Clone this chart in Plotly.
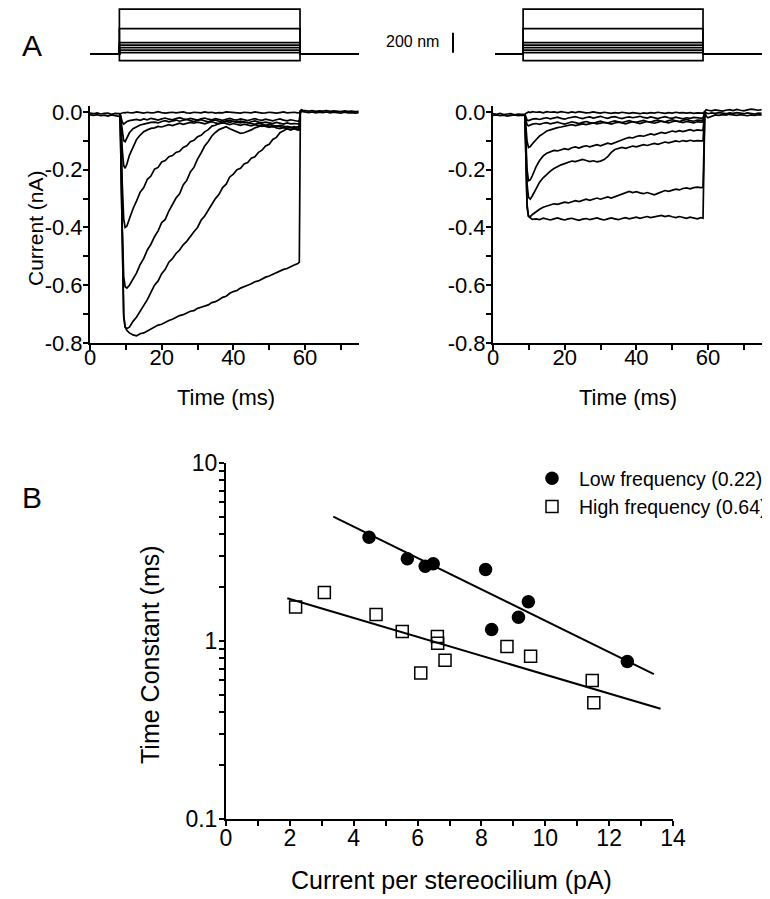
import plotly.graph_objects as go

FONT = "Liberation Sans, Arial, sans-serif"
W, H = 770, 899
OFF = 8  # page body margin of the html page

# ---------------- Panel A : stimulus (displacement steps, nm) ----------------
STIM_STEPS_NM = [450, 255, 115, 90, 65, 40, 15, -65]
STIM_ON = [8.2, 8.4]
STIM_OFF = [58.6, 58.6]
STIM_START = [0.0, 0.6]
STIM_END = 75.0
SCALE_BAR_NM = 200

# ---------------- Panel A left : currents (nA) ----------------
LEFT_T = [8.4, 8.7, 9.0, 9.4, 9.8, 10.3, 11,
          12, 13, 14, 15, 16, 17, 18, 19, 20, 21,
          22, 23, 24, 25, 26, 27, 28, 29, 30, 31,
          32, 33, 34, 35, 36, 37, 38, 39, 40, 41,
          42, 43, 44, 45, 46, 47, 48, 49, 50, 51,
          52, 53, 54, 55, 56, 57, 58,
          58.4, 58.7]

L0 = [-0.006, -0.004, -0.003, -0.002, -0.003, -0.001, -0.002,
      -0.003, 0.000, -0.002, -0.004, -0.001, -0.003, -0.002, 0.001, -0.002, -0.004,
      -0.002, -0.001, -0.003, -0.002, 0.000, -0.003, -0.004, -0.001, -0.002, -0.003,
      0.000, -0.002, -0.001, -0.004, -0.002, -0.003, 0.000, -0.001, -0.003, -0.002,
      -0.004, -0.001, -0.002, -0.003, 0.000, -0.002, -0.004, -0.003, -0.001, -0.002,
      -0.004, -0.002, 0.000, -0.003, -0.002, -0.001, -0.003,
      -0.002, 0.003]
L1 = [-0.006, -0.020, -0.035, -0.042, -0.038, -0.033, -0.030,
      -0.028, -0.026, -0.029, -0.024, -0.027, -0.022, -0.025, -0.028, -0.024, -0.021,
      -0.025, -0.027, -0.023, -0.020, -0.024, -0.026, -0.022, -0.025, -0.028, -0.024,
      -0.021, -0.025, -0.027, -0.023, -0.026, -0.029, -0.025, -0.022, -0.026, -0.028,
      -0.024, -0.027, -0.030, -0.026, -0.023, -0.027, -0.029, -0.025, -0.028, -0.031,
      -0.027, -0.024, -0.028, -0.031, -0.027, -0.030, -0.032,
      -0.030, 0.004]
L2 = [-0.006, -0.030, -0.070, -0.100, -0.103, -0.090, -0.072,
      -0.058, -0.050, -0.045, -0.042, -0.038, -0.036, -0.035, -0.038, -0.033, -0.030,
      -0.034, -0.031, -0.028, -0.032, -0.029, -0.026, -0.030, -0.033, -0.029, -0.027,
      -0.031, -0.034, -0.030, -0.028, -0.032, -0.035, -0.031, -0.029, -0.033, -0.036,
      -0.032, -0.035, -0.038, -0.034, -0.031, -0.035, -0.038, -0.035, -0.037, -0.040,
      -0.036, -0.039, -0.042, -0.038, -0.041, -0.040, -0.043,
      -0.042, 0.004]
L3 = [-0.007, -0.050, -0.130, -0.185, -0.195, -0.180, -0.150,
      -0.120, -0.095, -0.080, -0.068, -0.062, -0.057, -0.055, -0.050, -0.052, -0.047,
      -0.044, -0.047, -0.042, -0.039, -0.043, -0.040, -0.036, -0.039, -0.035, -0.038,
      -0.041, -0.037, -0.034, -0.038, -0.041, -0.037, -0.040, -0.044, -0.040, -0.043,
      -0.046, -0.042, -0.045, -0.048, -0.044, -0.047, -0.050, -0.046, -0.049, -0.052,
      -0.048, -0.051, -0.054, -0.050, -0.053, -0.055, -0.052,
      -0.054, 0.003]
L4 = [-0.007, -0.090, -0.250, -0.370, -0.400, -0.395, -0.370,
      -0.335, -0.308, -0.278, -0.262, -0.233, -0.222, -0.198, -0.192, -0.173, -0.168,
      -0.155, -0.151, -0.140, -0.136, -0.123, -0.117, -0.103, -0.098, -0.086, -0.081,
      -0.069, -0.061, -0.049, -0.046, -0.039, -0.038, -0.033, -0.036, -0.032, -0.035,
      -0.038, -0.034, -0.037, -0.040, -0.043, -0.039, -0.042, -0.046, -0.043, -0.047,
      -0.050, -0.046, -0.049, -0.052, -0.055, -0.051, -0.054,
      -0.056, 0.003]
L5 = [-0.008, -0.150, -0.400, -0.570, -0.605, -0.610, -0.600,
      -0.580, -0.557, -0.528, -0.507, -0.478, -0.458, -0.432, -0.412, -0.383, -0.372,
      -0.343, -0.322, -0.298, -0.283, -0.253, -0.237, -0.208, -0.192, -0.163, -0.142,
      -0.118, -0.102, -0.083, -0.071, -0.061, -0.056, -0.051, -0.058, -0.064, -0.070,
      -0.074, -0.072, -0.068, -0.062, -0.055, -0.050, -0.047, -0.050, -0.053, -0.049,
      -0.055, -0.058, -0.054, -0.059, -0.062, -0.058, -0.063,
      -0.060, 0.004]
L6 = [-0.008, -0.200, -0.500, -0.710, -0.745, -0.750, -0.745,
      -0.725, -0.710, -0.690, -0.672, -0.650, -0.625, -0.600, -0.585, -0.560, -0.545,
      -0.520, -0.508, -0.490, -0.478, -0.460, -0.448, -0.430, -0.415, -0.400, -0.375,
      -0.360, -0.340, -0.322, -0.300, -0.285, -0.262, -0.250, -0.225, -0.215, -0.200,
      -0.195, -0.180, -0.175, -0.160, -0.155, -0.140, -0.132, -0.118, -0.112, -0.095,
      -0.088, -0.072, -0.065, -0.058, -0.062, -0.056, -0.060,
      -0.062, 0.004]
L7 = [-0.008, -0.200, -0.500, -0.700, -0.745, -0.757, -0.765,
      -0.772, -0.775, -0.768, -0.765, -0.758, -0.752, -0.745, -0.738, -0.735, -0.728,
      -0.722, -0.718, -0.710, -0.705, -0.702, -0.695, -0.690, -0.688, -0.680, -0.676,
      -0.672, -0.668, -0.660, -0.657, -0.650, -0.642, -0.638, -0.628, -0.622, -0.618,
      -0.610, -0.604, -0.600, -0.595, -0.588, -0.585, -0.578, -0.572, -0.568, -0.562,
      -0.558, -0.552, -0.545, -0.542, -0.535, -0.530, -0.525,
      -0.520, 0.005]

LEFT_PRE_T = [0, 1, 2, 3, 4, 5, 6, 7, 8, 8.4]
LEFT_PRE_A = [-0.004, -0.006, -0.003, -0.007, -0.005, -0.004, -0.008, -0.005, -0.006, -0.006]
LEFT_PRE_B = [-0.010, -0.012, -0.009, -0.013, -0.011, -0.014, -0.010, -0.012, -0.015, -0.012]
LEFT_POST_T = [58.7, 59.0, 59.4, 60, 61, 62, 63, 64, 65, 66, 67, 68, 69, 70, 71, 72, 73, 74, 75]
LEFT_POST_A = [0.004, 0.008, 0.006, 0.004, 0.003, 0.005, 0.002, 0.004, 0.003, 0.005,
               0.002, 0.004, 0.003, 0.001, 0.004, 0.002, 0.003, 0.001, 0.002]
LEFT_POST_B = [0.000, 0.003, 0.001, -0.001, -0.002, 0.000, -0.003, -0.001, -0.002, 0.000,
               -0.003, -0.001, -0.002, -0.004, -0.001, -0.003, -0.002, -0.004, -0.002]

# ---------------- Panel A right : currents (nA) ----------------
RIGHT_T = [8.9, 9.2, 9.5, 9.9, 10.4, 11,
           12, 13, 14, 15, 16, 17, 18, 19, 20, 21,
           22, 23, 24, 25, 26, 27, 28, 29, 30, 31,
           32, 33, 34, 35, 36, 37, 38, 39, 40, 41,
           42, 43, 44, 45, 46, 47, 48, 49, 50, 51,
           52, 53, 54, 55, 56, 57, 58,
           58.6, 59.1]

R0 = [-0.007, -0.004, -0.002, 0.000, -0.002, 0.001,
      -0.001, 0.000, -0.003, 0.001, -0.001, 0.000, -0.002, 0.001, -0.001, -0.003,
      0.000, -0.002, 0.001, -0.001, -0.003, -0.002, 0.000, -0.002, -0.004, -0.001,
      -0.003, -0.005, -0.002, -0.004, -0.001, -0.003, -0.005, -0.002, -0.004, -0.006,
      -0.003, -0.005, -0.002, -0.004, -0.001, -0.003, -0.005, -0.002, -0.004, -0.001,
      -0.003, -0.002, -0.004, -0.002, -0.005, -0.003, -0.004,
      -0.004, 0.002]
R1 = [-0.008, -0.020, -0.028, -0.030, -0.027, -0.025,
      -0.023, -0.026, -0.022, -0.020, -0.024, -0.021, -0.018, -0.022, -0.025, -0.021,
      -0.019, -0.016, -0.020, -0.023, -0.019, -0.017, -0.021, -0.018, -0.015, -0.019,
      -0.022, -0.018, -0.016, -0.020, -0.023, -0.019, -0.017, -0.020, -0.018, -0.015,
      -0.019, -0.021, -0.017, -0.020, -0.023, -0.019, -0.016, -0.020, -0.022, -0.018,
      -0.021, -0.024, -0.020, -0.022, -0.019, -0.021, -0.023,
      -0.022, 0.000]
R2 = [-0.008, -0.030, -0.045, -0.048, -0.045, -0.042,
      -0.040, -0.043, -0.039, -0.037, -0.041, -0.038, -0.035, -0.039, -0.042, -0.038,
      -0.034, -0.037, -0.040, -0.036, -0.033, -0.037, -0.039, -0.035, -0.032, -0.036,
      -0.038, -0.034, -0.031, -0.034, -0.037, -0.033, -0.030, -0.034, -0.036, -0.032,
      -0.029, -0.033, -0.035, -0.031, -0.028, -0.032, -0.034, -0.030, -0.027, -0.031,
      -0.033, -0.029, -0.026, -0.030, -0.032, -0.028, -0.030,
      -0.029, 0.001]
R3 = [-0.008, -0.050, -0.100, -0.123, -0.120, -0.110,
      -0.095, -0.083, -0.075, -0.066, -0.062, -0.057, -0.054, -0.052, -0.049, -0.047,
      -0.044, -0.047, -0.043, -0.041, -0.044, -0.040, -0.038, -0.041, -0.038, -0.036,
      -0.039, -0.042, -0.038, -0.035, -0.038, -0.041, -0.037, -0.034, -0.037, -0.040,
      -0.036, -0.033, -0.036, -0.039, -0.035, -0.032, -0.035, -0.038, -0.034, -0.031,
      -0.034, -0.037, -0.033, -0.035, -0.038, -0.034, -0.036,
      -0.035, 0.000]
R4 = [-0.008, -0.090, -0.200, -0.238, -0.235, -0.220,
      -0.190, -0.168, -0.152, -0.143, -0.138, -0.133, -0.135, -0.130, -0.127, -0.130,
      -0.124, -0.121, -0.125, -0.120, -0.117, -0.121, -0.116, -0.113, -0.117, -0.112,
      -0.108, -0.111, -0.106, -0.100, -0.095, -0.092, -0.088, -0.090, -0.085, -0.082,
      -0.084, -0.079, -0.076, -0.079, -0.074, -0.071, -0.074, -0.069, -0.066, -0.069,
      -0.065, -0.068, -0.064, -0.061, -0.065, -0.062, -0.064,
      -0.063, 0.000]
R5 = [-0.008, -0.110, -0.250, -0.295, -0.302, -0.290,
      -0.265, -0.243, -0.228, -0.215, -0.205, -0.196, -0.188, -0.183, -0.179, -0.174,
      -0.170, -0.172, -0.167, -0.164, -0.168, -0.172, -0.169, -0.173, -0.170, -0.165,
      -0.155, -0.140, -0.130, -0.127, -0.123, -0.126, -0.122, -0.118, -0.121, -0.117,
      -0.113, -0.116, -0.112, -0.109, -0.112, -0.108, -0.104, -0.107, -0.103, -0.100,
      -0.103, -0.099, -0.102, -0.098, -0.101, -0.099, -0.100,
      -0.100, 0.000]
R6 = [-0.008, -0.150, -0.320, -0.360, -0.363, -0.355,
      -0.345, -0.337, -0.330, -0.326, -0.322, -0.318, -0.320, -0.315, -0.312, -0.315,
      -0.310, -0.307, -0.310, -0.305, -0.302, -0.306, -0.301, -0.298, -0.302, -0.297,
      -0.294, -0.298, -0.293, -0.288, -0.284, -0.278, -0.275, -0.279, -0.276, -0.280,
      -0.283, -0.279, -0.284, -0.287, -0.282, -0.276, -0.272, -0.275, -0.270, -0.267,
      -0.270, -0.265, -0.263, -0.266, -0.262, -0.260, -0.262,
      -0.261, 0.000]
R7 = [-0.008, -0.160, -0.330, -0.362, -0.368, -0.372,
      -0.370, -0.373, -0.368, -0.371, -0.374, -0.370, -0.367, -0.371, -0.374, -0.370,
      -0.368, -0.372, -0.375, -0.371, -0.369, -0.373, -0.370, -0.367, -0.371, -0.374,
      -0.370, -0.367, -0.370, -0.373, -0.369, -0.366, -0.370, -0.367, -0.364, -0.368,
      -0.365, -0.362, -0.366, -0.363, -0.360, -0.358, -0.362, -0.359, -0.363, -0.366,
      -0.362, -0.365, -0.368, -0.364, -0.367, -0.370, -0.366,
      -0.368, 0.002]

RIGHT_PRE_T = [0, 1, 2, 3, 4, 5, 6, 7, 8, 8.9]
RIGHT_PRE_A = [-0.006, -0.008, -0.005, -0.009, -0.007, -0.006, -0.010, -0.007, -0.008, -0.008]
RIGHT_PRE_B = [-0.012, -0.010, -0.013, -0.011, -0.014, -0.012, -0.010, -0.013, -0.011, -0.012]
RIGHT_POST_T = [59.1, 59.5, 60, 61, 62, 63, 64, 65, 66, 67, 68, 69, 70, 71, 72, 73, 74, 75]
RIGHT_POST_A = [0.002, 0.008, 0.006, 0.004, 0.007, 0.005, 0.003, 0.006, 0.008, 0.005,
                0.009, 0.006, 0.004, 0.007, 0.010, 0.008, 0.006, 0.008]
RIGHT_POST_B = [0.000, -0.004, -0.006, -0.003, -0.005, -0.002, -0.004, -0.006, -0.003, -0.005,
                -0.002, -0.004, -0.006, -0.003, -0.005, -0.007, -0.004, -0.005]
RIGHT_POST_C = [0.000, -0.015, -0.020, -0.014, -0.010, -0.012, -0.009, -0.011, -0.008, -0.010,
                -0.012, -0.009, -0.011, -0.013, -0.010, -0.012, -0.009, -0.011]

LEFT_TRACES = [L0, L1, L2, L3, L4, L5, L6, L7]
RIGHT_TRACES = [R0, R1, R2, R3, R4, R5, R6, R7]
for tr in LEFT_TRACES:
    assert len(tr) == len(LEFT_T), len(tr)
for tr in RIGHT_TRACES:
    assert len(tr) == len(RIGHT_T), len(tr)

A_XTICKS = [0, 10, 20, 30, 40, 50, 60, 70]
A_XLABELS = ["0", "", "20", "", "40", "", "60", ""]
A_YTICKS = [0, -0.1, -0.2, -0.3, -0.4, -0.5, -0.6, -0.7, -0.8]
A_YLABELS = ["0.0", "", "-0.2", "", "-0.4", "", "-0.6", "", "-0.8"]

# ---------------- Panel B ----------------
LOW_X = [4.48, 5.68, 6.24, 6.49, 8.13, 8.32, 9.16, 9.47, 12.57]
LOW_Y = [3.83, 2.90, 2.63, 2.72, 2.52, 1.16, 1.36, 1.66, 0.767]
HIGH_X = [2.18, 3.08, 4.70, 5.52, 6.10, 6.62, 6.63, 6.86, 8.80, 9.54, 11.47, 11.52]
HIGH_Y = [1.55, 1.87, 1.41, 1.13, 0.66, 1.06, 0.97, 0.78, 0.93, 0.82, 0.60, 0.45]
LOW_FIT_X = [3.36, 13.40]
LOW_FIT_Y = [5.0, 0.652]
HIGH_FIT_X = [1.92, 13.61]
HIGH_FIT_Y = [1.74, 0.416]
LOW_NAME = "Low frequency (0.22)"
HIGH_NAME = "High frequency (0.64)"

B_XTICKS = list(range(0, 15))
B_XLABELS = [str(v) if v % 2 == 0 else "" for v in B_XTICKS]
B_YTICKS = [0.1, 0.2, 0.3, 0.4, 0.5, 0.6, 0.7, 0.8, 0.9, 1, 2, 3, 4, 5, 6, 7, 8, 9, 10]
B_YLABELS = ["0.1", "", "", "", "", "", "", "", "", "1", "", "", "", "", "", "", "", "", "10"]


def px(x):
    return (x - OFF) / W


def py(y):
    return 1 - (y - OFF) / H


def dom_x(a, b):
    return [px(a), px(b)]


def dom_y(top, bottom):
    return [max(0.0, py(bottom)), min(1.0, py(top))]


fig = go.Figure()
LINE = dict(color="black", width=1.7)

# stimulus traces
for k, (xa, ya) in enumerate([("x3", "y3"), ("x4", "y4")]):
    for d in STIM_STEPS_NM:
        fig.add_trace(go.Scatter(
            x=[STIM_START[k], STIM_ON[k], STIM_ON[k], STIM_OFF[k], STIM_OFF[k], STIM_END],
            y=[0, 0, d, d, 0, 0], mode="lines", line=dict(color="black", width=1.7),
            xaxis=xa, yaxis=ya, showlegend=False, hoverinfo="skip"))

# left currents
for tx, ty in [(LEFT_PRE_T, LEFT_PRE_A), (LEFT_PRE_T, LEFT_PRE_B),
               (LEFT_POST_T, LEFT_POST_A), (LEFT_POST_T, LEFT_POST_B)]:
    fig.add_trace(go.Scatter(x=tx, y=ty, mode="lines", line=LINE, xaxis="x", yaxis="y",
                             showlegend=False, hoverinfo="skip"))
for tr in LEFT_TRACES:
    fig.add_trace(go.Scatter(x=LEFT_T, y=tr, mode="lines", line=LINE, xaxis="x", yaxis="y",
                             showlegend=False, hoverinfo="skip"))

# right currents
for tx, ty in [(RIGHT_PRE_T, RIGHT_PRE_A), (RIGHT_PRE_T, RIGHT_PRE_B),
               (RIGHT_POST_T, RIGHT_POST_A), (RIGHT_POST_T, RIGHT_POST_B),
               (RIGHT_POST_T, RIGHT_POST_C)]:
    fig.add_trace(go.Scatter(x=tx, y=ty, mode="lines", line=LINE, xaxis="x2", yaxis="y2",
                             showlegend=False, hoverinfo="skip"))
for tr in RIGHT_TRACES:
    fig.add_trace(go.Scatter(x=RIGHT_T, y=tr, mode="lines", line=LINE, xaxis="x2", yaxis="y2",
                             showlegend=False, hoverinfo="skip"))

# panel B
fig.add_trace(go.Scatter(x=LOW_FIT_X, y=LOW_FIT_Y, mode="lines", line=dict(color="black", width=2),
                         xaxis="x5", yaxis="y5", showlegend=False, hoverinfo="skip"))
fig.add_trace(go.Scatter(x=HIGH_FIT_X, y=HIGH_FIT_Y, mode="lines", line=dict(color="black", width=2),
                         xaxis="x5", yaxis="y5", showlegend=False, hoverinfo="skip"))
fig.add_trace(go.Scatter(x=LOW_X, y=LOW_Y, mode="markers", name=LOW_NAME,
                         marker=dict(symbol="circle", size=13.5, color="black"),
                         xaxis="x5", yaxis="y5"))
fig.add_trace(go.Scatter(x=HIGH_X, y=HIGH_Y, mode="markers", name=HIGH_NAME,
                         marker=dict(symbol="square-open", size=12, color="black",
                                     line=dict(width=1.5, color="black")),
                         xaxis="x5", yaxis="y5"))

AX = dict(showline=True, linecolor="black", linewidth=2, ticks="outside", ticklen=5,
          tickwidth=2, tickcolor="black", showgrid=False, zeroline=False, mirror=False,
          fixedrange=True, automargin=False)
fontA = dict(family=FONT, size=22, color="black")
fontB = dict(family=FONT, size=23, color="black")
HID = dict(visible=False, showgrid=False, zeroline=False, fixedrange=True, automargin=False)

Y_A = dom_y(106.2, 343)
# stimulus panel: top edge of the page region at y=8 px, 10 nm per px
Y_S = dom_y(8, 64)
S_RANGE = [-98, 462]
fig.update_layout(
    width=W, height=H, autosize=False,
    margin=dict(l=0, r=0, t=0, b=0, pad=0, autoexpand=False),
    paper_bgcolor="white", plot_bgcolor="rgba(0,0,0,0)",
    font=dict(family=FONT, color="black"),
    xaxis=dict(AX, domain=dom_x(90, 358.8), range=[0, 75], tickvals=A_XTICKS,
               ticktext=A_XLABELS, tickfont=fontA, anchor="y", ticklabelstandoff=-11),
    yaxis=dict(AX, domain=Y_A, range=[-0.8, 0.02], tickvals=A_YTICKS, ticktext=A_YLABELS,
               tickfont=fontA, anchor="x", ticklabelstandoff=-4),
    xaxis2=dict(AX, domain=dom_x(493, 761.8), range=[0, 75], tickvals=A_XTICKS,
                ticktext=A_XLABELS, tickfont=fontA, anchor="y2", ticklabelstandoff=-11),
    yaxis2=dict(AX, domain=Y_A, range=[-0.8, 0.02], tickvals=A_YTICKS, ticktext=A_YLABELS,
                tickfont=fontA, anchor="x2", ticklabelstandoff=-4),
    xaxis3=dict(HID, domain=dom_x(90, 358.8), range=[0, 75], anchor="y3"),
    yaxis3=dict(HID, domain=Y_S, range=S_RANGE, anchor="x3"),
    xaxis4=dict(HID, domain=dom_x(493, 761.8), range=[0, 75], anchor="y4"),
    yaxis4=dict(HID, domain=Y_S, range=S_RANGE, anchor="x4"),
    xaxis5=dict(AX, domain=dom_x(226, 673), range=[0, 14], tickvals=B_XTICKS,
                ticktext=B_XLABELS, tickfont=fontB, anchor="y5", ticklabelstandoff=-8),
    yaxis5=dict(AX, domain=dom_y(463, 819), type="log", range=[-1, 1], tickvals=B_YTICKS,
                ticktext=B_YLABELS, tickfont=fontB, anchor="x5", ticklabelstandoff=-3),
    legend=dict(x=px(525), y=py(459), xanchor="left", yanchor="top",
                font=dict(family=FONT, size=19.5, color="black"), itemwidth=44,
                bgcolor="rgba(0,0,0,0)", borderwidth=0),
    showlegend=True,
)

# scale bar
fig.add_shape(type="line", xref="paper", yref="y4", x0=px(453), x1=px(453),
              y0=15, y1=15 + SCALE_BAR_NM, line=dict(color="black", width=2))

ann = [
    dict(text="A", x=32, y=45, size=30, angle=0),
    dict(text="B", x=32, y=497, size=30, angle=0),
    dict(text="Current (nA)", x=36, y=228, size=21, angle=-90),
    dict(text="Time (ms)", x=226, y=397, size=22, angle=0),
    dict(text="Time (ms)", x=628, y=397, size=22, angle=0),
    dict(text="Time Constant (ms)", x=150, y=655, size=25, angle=-90),
    dict(text="Current per stereocilium (pA)", x=451, y=880, size=25, angle=0),
]
for a in ann:
    fig.add_annotation(text=a["text"], x=px(a["x"]), y=py(a["y"]), xref="paper", yref="paper",
                       showarrow=False, textangle=a["angle"], xanchor="center", yanchor="middle",
                       font=dict(family=FONT, size=a["size"], color="black"))
fig.add_annotation(text=f"{SCALE_BAR_NM} nm", x=px(441), y=py(42), xref="paper", yref="paper",
                   showarrow=False, xanchor="right", yanchor="middle",
                   font=dict(family=FONT, size=16, color="black"))

fig.write_html("out.html")
